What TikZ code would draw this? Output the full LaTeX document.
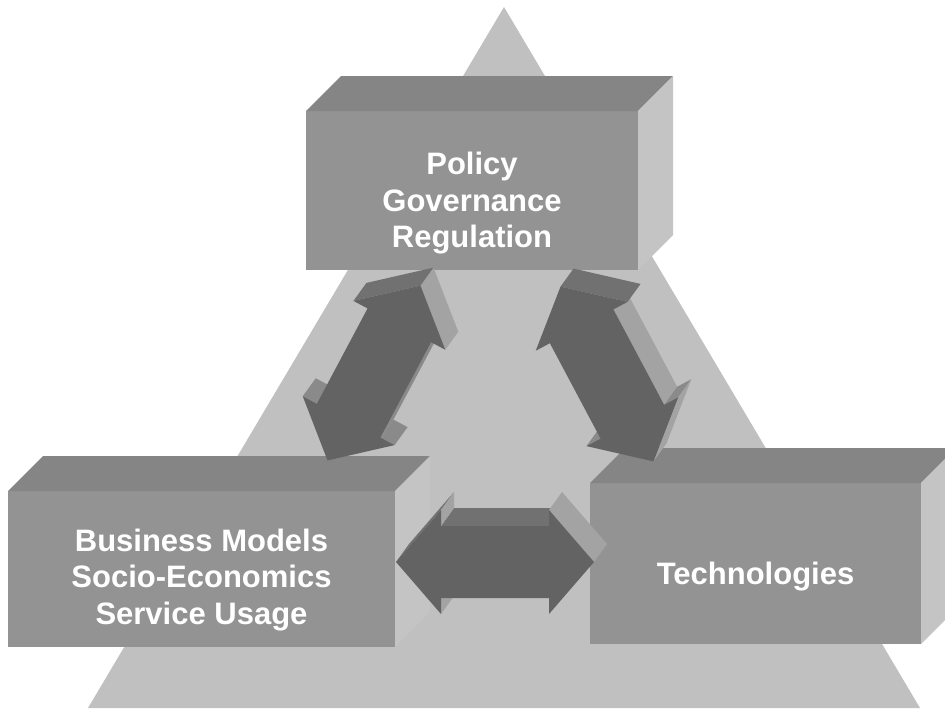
\documentclass[tikz,border=0pt]{standalone}
\usepackage{fontspec}
\setmainfont{Liberation Sans}
\usetikzlibrary{calc}
\definecolor{trigray}{HTML}{C0C0C0}
\definecolor{frontgray}{HTML}{939393}
\definecolor{topgray}{HTML}{858585}
\definecolor{sidegray}{HTML}{C4C4C4}
\definecolor{arrowdark}{HTML}{636363}
\definecolor{arrowtop}{HTML}{717171}
\definecolor{arrowmid}{HTML}{8A8A8A}
\definecolor{arrowlight}{HTML}{A3A3A3}
% corner points of a double block arrow
\newcommand{\arrowpts}[3]{%
  \begin{scope}[shift={(#1,#2)},rotate=#3]
    \coordinate (p1) at (99,0);
    \coordinate (p2) at (54,52);
    \coordinate (p3) at (54,36);
    \coordinate (p4) at (-54,36);
    \coordinate (p5) at (-54,52);
    \coordinate (p6) at (-99,0);
    \coordinate (p7) at (-54,-52);
    \coordinate (p8) at (-54,-36);
    \coordinate (p9) at (54,-36);
    \coordinate (p10) at (54,-52);
  \end{scope}}
\newcommand{\arrowface}[3]{%
  \fill[#1] (#2) -- (#3) -- ($(#3)+(13,-18)$) -- ($(#2)+(13,-18)$) -- cycle;}
\newcommand{\arrowfront}{%
  \fill[arrowdark] (p1) -- (p2) -- (p3) -- (p4) -- (p5) -- (p6) -- (p7) -- (p8) -- (p9) -- (p10) -- cycle;}
\begin{document}
\begin{tikzpicture}[x=0.75pt,y=-0.75pt]
\tikzstyle{every node}=[inner sep=0pt,outer sep=0pt]
\tikzstyle{boxfront}=[fill=frontgray]
\tikzstyle{boxtext}=[text=white,align=center,font=\fontsize{23.25}{27.4}\selectfont\bfseries]
\useasboundingbox (0,0) rectangle (945,708);
\fill[white] (0,0) rectangle (945,708);
\clip (0,0) rectangle (945,708);
% big triangle
\fill[trigray] (504,7) -- (88,708) -- (920,708) -- cycle;
% policy box
\node[boxfront,minimum width=249pt,minimum height=119.25pt] (policy) at (472,190.5) {};
\fill[topgray] (policy.north west) -- (policy.north east) -- ++(35,-35) -- ($(policy.north west)+(35,-35)$) -- cycle;
\fill[sidegray] (policy.north east) -- (policy.south east) -- ++(35,-35) -- ($(policy.north east)+(35,-35)$) -- cycle;
% business box
\node[boxfront,minimum width=290.25pt,minimum height=117pt] (business) at (201.5,569) {};
\fill[topgray] (business.north west) -- (business.north east) -- ++(35,-35) -- ($(business.north west)+(35,-35)$) -- cycle;
\fill[sidegray] (business.north east) -- (business.south east) -- ++(35,-35) -- ($(business.north east)+(35,-35)$) -- cycle;
% technologies box
\node[boxfront,minimum width=248.25pt,minimum height=120.75pt] (tech) at (755.5,563.5) {};
\fill[topgray] (tech.north west) -- (tech.north east) -- ++(35,-35) -- ($(tech.north west)+(35,-35)$) -- cycle;
\fill[sidegray] (tech.north east) -- (tech.south east) -- ++(35,-35) -- ($(tech.north east)+(35,-35)$) -- cycle;
% left arrow
\arrowpts{374}{373}{62}
\arrowface{arrowmid}{p3}{p4}
\arrowface{arrowmid}{p4}{p5}
\arrowface{arrowmid}{p7}{p8}
\arrowface{arrowlight}{p1}{p2}
\arrowface{arrowtop}{p10}{p1}
\arrowfront
% right arrow
\arrowpts{607}{374}{118}
\arrowface{arrowlight}{p3}{p4}
\arrowface{arrowmid}{p4}{p5}
\arrowface{arrowmid}{p7}{p8}
\arrowface{arrowlight}{p5}{p6}
\arrowface{arrowtop}{p1}{p2}
\arrowfront
% bottom arrow
\arrowpts{495}{562}{0}
\arrowface{arrowtop}{p8}{p9}
\arrowface{arrowtop}{p6}{p7}
\arrowface{arrowlight}{p7}{p8}
\arrowface{arrowlight}{p4}{p5}
\arrowface{arrowlight}{p10}{p1}
\arrowfront
% texts
\node[boxtext] (policytext) at ($(policy.center)+(0,13)$) {Policy\\Governance\\Regulation};
\node[boxtext] (businesstext) at ($(business.center)+(0,11)$) {Business Models\\Socio-Economics\\Service Usage};
\node[boxtext] (techtext) at ($(tech.center)+(0,13)$) {Technologies};
\end{tikzpicture}
\end{document}
